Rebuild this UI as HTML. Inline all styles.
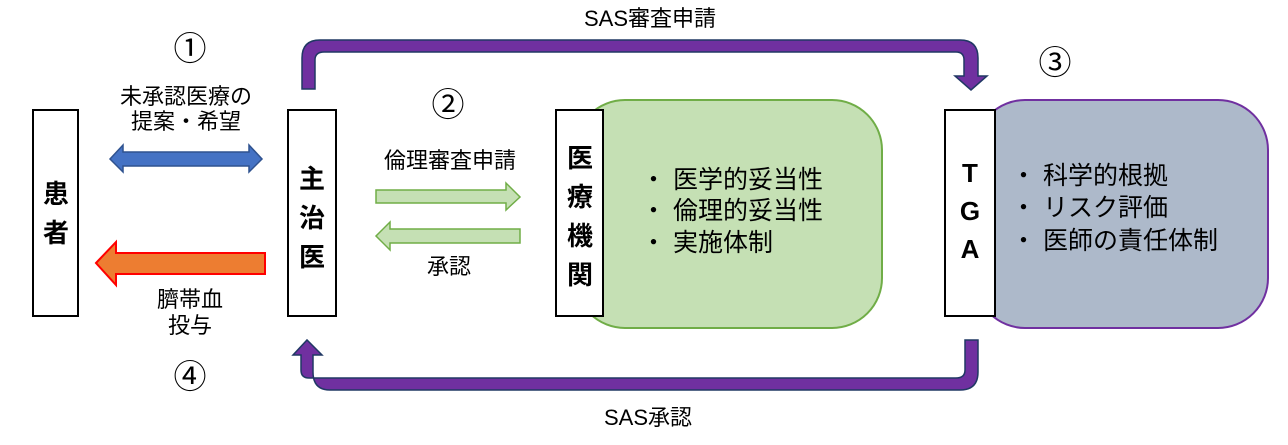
<!DOCTYPE html>
<html><head><meta charset="utf-8"><style>
body{margin:0;width:1288px;height:440px;background:#fff;overflow:hidden;font-family:"Liberation Sans","Noto Sans CJK JP",sans-serif;}
svg text{font-family:"Liberation Sans","Noto Sans CJK JP",sans-serif;fill:#000;}
</style></head><body>
<svg width="1288" height="440" viewBox="0 0 1288 440" xmlns="http://www.w3.org/2000/svg">
<rect x="575" y="100" width="307" height="228" rx="50" fill="#c5e0b4" stroke="#70ad47" stroke-width="2"/>
<rect x="975" y="100" width="293" height="228" rx="50" fill="#adb9ca" stroke="#7030a0" stroke-width="2"/>
<rect x="33" y="110" width="45" height="206" fill="#fff" stroke="#000" stroke-width="2"/>
<rect x="288" y="110" width="48" height="206" fill="#fff" stroke="#000" stroke-width="2"/>
<rect x="556" y="110" width="47" height="206" fill="#fff" stroke="#000" stroke-width="2"/>
<rect x="945" y="110" width="50" height="206" fill="#fff" stroke="#000" stroke-width="2"/>
<g font-size="26" font-weight="bold" text-anchor="middle">
<text x="56" y="203">患</text><text x="56" y="242">者</text>
<text x="312" y="188">主</text><text x="312" y="227">治</text><text x="312" y="266">医</text>
<text x="580" y="167">医</text><text x="580" y="206">療</text><text x="580" y="245">機</text><text x="580" y="284">関</text>
<text x="970" y="182">T</text><text x="970" y="220">G</text><text x="970" y="258">A</text>
</g>
<path d="M110,159 L123,145 L123,152 L249,152 L249,145 L262,159 L249,172 L249,166 L123,166 L123,172 Z" fill="#4472c4" stroke="#2f528f" stroke-width="1.5"/>
<path d="M96,263 L116,242 L116,253 L265,253 L265,274 L116,274 L116,285 Z" fill="#ed7d31" stroke="#ff0000" stroke-width="2"/>
<path d="M376,190 L506,190 L506,183 L520,197 L506,210 L506,203 L376,203 Z" fill="#c5e0b4" stroke="#70ad47" stroke-width="1.5"/>
<path d="M520,229 L390,229 L390,222 L376,236 L390,250 L390,243 L520,243 Z" fill="#c5e0b4" stroke="#70ad47" stroke-width="1.5"/>
<path d="M302,89 L302,58 Q302,40 320,40 L960,40 Q978,40 978,58 L978,76 L987,76 L971,90 L955,76 L964,76 L964,60 Q964,52 956,52 L324,52 Q315,52 315,60 L315,89 Z" fill="#7030a0" stroke="#203864" stroke-width="1.5"/>
<path d="M978,340 L978,372 Q978,390 960,390 L330,390 Q313,390 313,372 L313,355 L322,355 L307,340 L293,355 L301,355 L301,370 Q301,378 309,378 L956,378 Q965,378 965,370 L965,340 Z" fill="#7030a0" stroke="#203864" stroke-width="1.5"/>
<g font-size="22" text-anchor="middle">
<text x="650" y="26">SAS審査申請</text>
<text x="648" y="425">SAS承認</text>
<text x="186" y="104">未承認医療の</text>
<text x="186" y="129">提案・希望</text>
<text x="450" y="168">倫理審査申請</text>
<text x="449" y="274">承認</text>
<text x="190" y="307">臍帯血</text>
<text x="190" y="333">投与</text>
</g>
<g font-size="33" text-anchor="middle">
<text x="190" y="60">①</text>
<text x="448" y="116">②</text>
<text x="1055" y="74">③</text>
<text x="190" y="388">④</text>
</g>
<g font-size="25">
<text x="641" y="188">・ 医学的妥当性</text>
<text x="641" y="219">・ 倫理的妥当性</text>
<text x="641" y="251">・ 実施体制</text>
<text x="1011" y="184">・ 科学的根拠</text>
<text x="1011" y="216">・ リスク評価</text>
<text x="1011" y="249">・ 医師の責任体制</text>
</g>
</svg>
</body></html>
